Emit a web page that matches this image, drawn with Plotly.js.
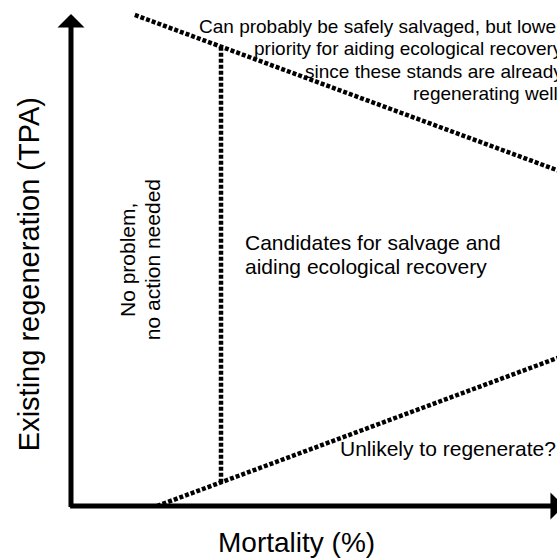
<!DOCTYPE html>
<html>
<head>
<meta charset="utf-8">
<script src="https://cdn.plot.ly/plotly-3.0.1.min.js"></script>
<style>html,body{margin:0;padding:0;background:#fff;}#chart{width:557px;height:558px;}</style>
</head>
<body>
<div id="chart"></div>
<script>
// Conceptual diagram: mortality (%) on x, existing regeneration (TPA) on y, both in relative units 0-100
const upperBoundX = [13.3, 105];     // upper dotted boundary
const upperBoundY = [102.3, 68.6];
const lowerBoundX = [17.9, 105];     // lower dotted boundary
const lowerBoundY = [0, 32.2];
const dividerX = [31.25, 31.25];     // vertical dotted divider
const dividerY = [95.7, 4.9];

const xTitle = "Mortality (%)";
const yTitle = "Existing regeneration (TPA)";
const topNote = ["Can probably be safely salvaged, but lower",
                 "priority for aiding ecological recovery",
                 "since these stands are already",
                 "regenerating well."];
const middleNote = ["Candidates for salvage and", "aiding ecological recovery"];
const leftNote = ["No problem,", "no action needed"];
const bottomNote = "Unlikely to regenerate?";

const FONT = "Liberation Sans, Arial, sans-serif";
const dotted = {color: "#000", width: 4.5, dash: "4px,2px"};

const traces = [
  {x: upperBoundX, y: upperBoundY, mode: "lines", line: dotted, hoverinfo: "skip"},
  {x: lowerBoundX, y: lowerBoundY, mode: "lines", line: dotted, hoverinfo: "skip"},
  {x: dividerX, y: dividerY, mode: "lines", line: dotted, hoverinfo: "skip"}
];

const ann = [];
// axes with arrowheads
ann.push({x: 0, y: 102.5, ax: 0, ay: -0.5, xref: "x", yref: "y", axref: "x", ayref: "y",
  text: "", showarrow: true, arrowhead: 1, arrowwidth: 5, arrowsize: 0.9, arrowcolor: "#000", standoff: 0, startstandoff: 0});
ann.push({x: 102.7, y: 0, ax: -0.5, ay: 0, xref: "x", yref: "y", axref: "x", ayref: "y",
  text: "", showarrow: true, arrowhead: 1, arrowwidth: 5, arrowsize: 0.9, arrowcolor: "#000", standoff: 0, startstandoff: 0});

// axis titles
ann.push({x: -8.75, y: 48.3, text: yTitle, textangle: -90, showarrow: false,
  font: {family: FONT, size: 29, color: "#000"}, xanchor: "center", yanchor: "middle"});
ann.push({x: 46.9, y: -7.6, text: xTitle, showarrow: false,
  font: {family: FONT, size: 28, color: "#000"}, xanchor: "center", yanchor: "middle"});

// top note (right aligned, runs past right edge)
const topY = [100, 95.3, 90.6, 85.9];
topNote.forEach((t, i) => ann.push({x: 100, y: topY[i], xshift: 14, text: t, showarrow: false,
  font: {family: FONT, size: 19, color: "#000"}, xanchor: "right", yanchor: "middle", align: "right"}));

// middle note
const midY = [54.8, 50.0];
middleNote.forEach((t, i) => ann.push({x: 35.83, y: midY[i], text: t, showarrow: false,
  font: {family: FONT, size: 21, color: "#000"}, xanchor: "left", yanchor: "middle"}));

// left note (rotated)
const leftX = [11.67, 16.9];
leftNote.forEach((t, i) => ann.push({x: leftX[i], y: 51.25, text: t, textangle: -90, showarrow: false,
  font: {family: FONT, size: 21, color: "#000"}, xanchor: "center", yanchor: "middle"}));

// bottom note
ann.push({x: 55.6, y: 11.9, text: bottomNote, showarrow: false,
  font: {family: FONT, size: 21, color: "#000"}, xanchor: "left", yanchor: "middle"});

const layout = {
  width: 557, height: 558,
  margin: {l: 0, r: 0, t: 0, b: 0, pad: 0},
  paper_bgcolor: "#fff", plot_bgcolor: "#fff",
  showlegend: false,
  xaxis: {range: [-14.79, 101.25], visible: false, fixedrange: true},
  yaxis: {range: [-10.83, 105.42], visible: false, fixedrange: true},
  annotations: ann
};

Plotly.newPlot("chart", traces, layout, {staticPlot: true, displayModeBar: false});
</script>
</body>
</html>
